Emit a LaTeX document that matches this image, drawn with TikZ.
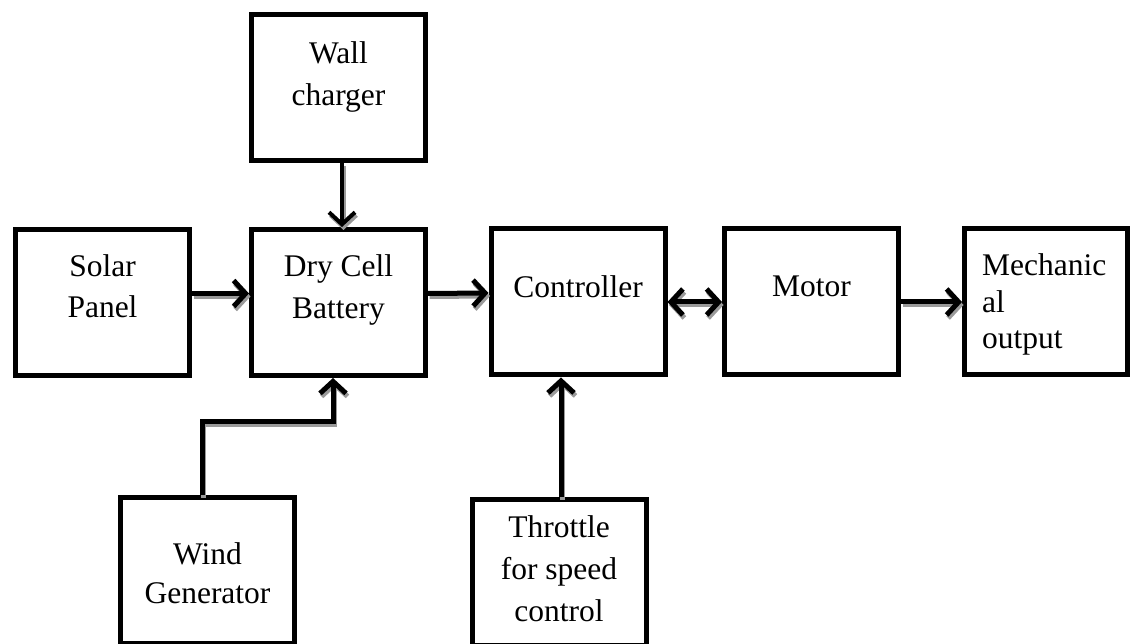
\documentclass[tikz,border=0pt]{standalone}
\usepackage{fontspec}
\setmainfont{Liberation Serif}
\usepackage{tikz}
\usetikzlibrary{arrows.meta,positioning,calc}
\definecolor{Ink}{HTML}{000000}
\definecolor{Shade}{HTML}{9A9A9A}
\tikzset{
  blockbox/.style={draw=Ink,line width=5pt,minimum width=174pt,minimum height=146pt,inner sep=0pt,fill=white},
  blocktext/.style={anchor=north,align=center,inner sep=0pt,text=Ink,font=\fontsize{31.5}{42}\selectfont},
  flowArrow/.style={-{Straight Barb[length=12pt,width=26pt]},line width=5pt},
  thinFlow/.style={flowArrow,line width=4pt}
}
\begin{document}
\begin{tikzpicture}[x=1pt,y=1pt]
  \useasboundingbox (0,0) rectangle (1132,644);

  % blocks
  \node[blockbox] (wall)    at (338.5,556.5) {};
  \node[blockbox] (solar)   at (102.5,341.5) {};
  \node[blockbox] (battery) at (338.5,341.5) {};
  \node[blockbox] (ctrl)    at (578,342) {};
  \node[blockbox] (motor)   at (811.5,342) {};
  \node[blockbox,minimum width=163pt] (mech) at (1046,342) {};
  \node[blockbox] (wind)     at (207.5,73.5) {};
  \node[blockbox] (throttle) at (559,71.5) {};

  % texts
  \node[blocktext,yshift=-29pt] (wallTxt)    at (wall.north)    {Wall\\charger};
  \node[blocktext,yshift=-27pt] (solarTxt)   at (solar.north)   {Solar\\[-1pt]Panel};
  \node[blocktext,yshift=-27pt] (batteryTxt) at (battery.north) {Dry Cell\\Battery};
  \node[blocktext,yshift=-49pt] (ctrlTxt)    at (ctrl.north)    {Controller};
  \node[blocktext,yshift=-49pt] (motorTxt)   at (motor.north)   {Motor};
  \node[blocktext,anchor=north west,align=left,xshift=20pt,yshift=-27pt] (mechTxt) at (mech.north west)
    {Mechanic\\[-5.5pt]al\\[-5.5pt]output};
  \node[blocktext,yshift=-47pt] (windTxt)     at (wind.north)     {Wind\\[-3pt]Generator};
  \node[blocktext,yshift=-18pt] (throttleTxt) at (throttle.north) {Throttle\\for speed\\control};

  % connectors, grey shadow first
  \foreach \ink/\dx/\dy in {Shade/1.5/-3,Ink/0/0}{
    \begin{scope}[transform canvas={xshift=\dx pt,yshift=\dy pt},draw=\ink]
      \draw[thinFlow] ([xshift=3.5pt]wall.south) -- ([xshift=3.5pt]battery.north);
      \draw[flowArrow] ([yshift=9pt]solar.east) -- ([yshift=9pt]battery.west);
      \draw[flowArrow] ([yshift=9pt]battery.east) -- ([yshift=9pt]ctrl.west);
      \draw[flowArrow,{Straight Barb[length=12pt,width=26pt]}-{Straight Barb[length=12pt,width=26pt]}] (ctrl.east) -- (motor.west);
      \draw[flowArrow] (motor.east) -- (mech.west);
      \draw[flowArrow] ([xshift=-5.5pt]wind.north) -- ++(0,73) -| ([xshift=-5.5pt]battery.south);
      \draw[flowArrow] ([xshift=2pt]throttle.north) -- ([xshift=-17pt]ctrl.south);
    \end{scope}
  }
\end{tikzpicture}
\end{document}
